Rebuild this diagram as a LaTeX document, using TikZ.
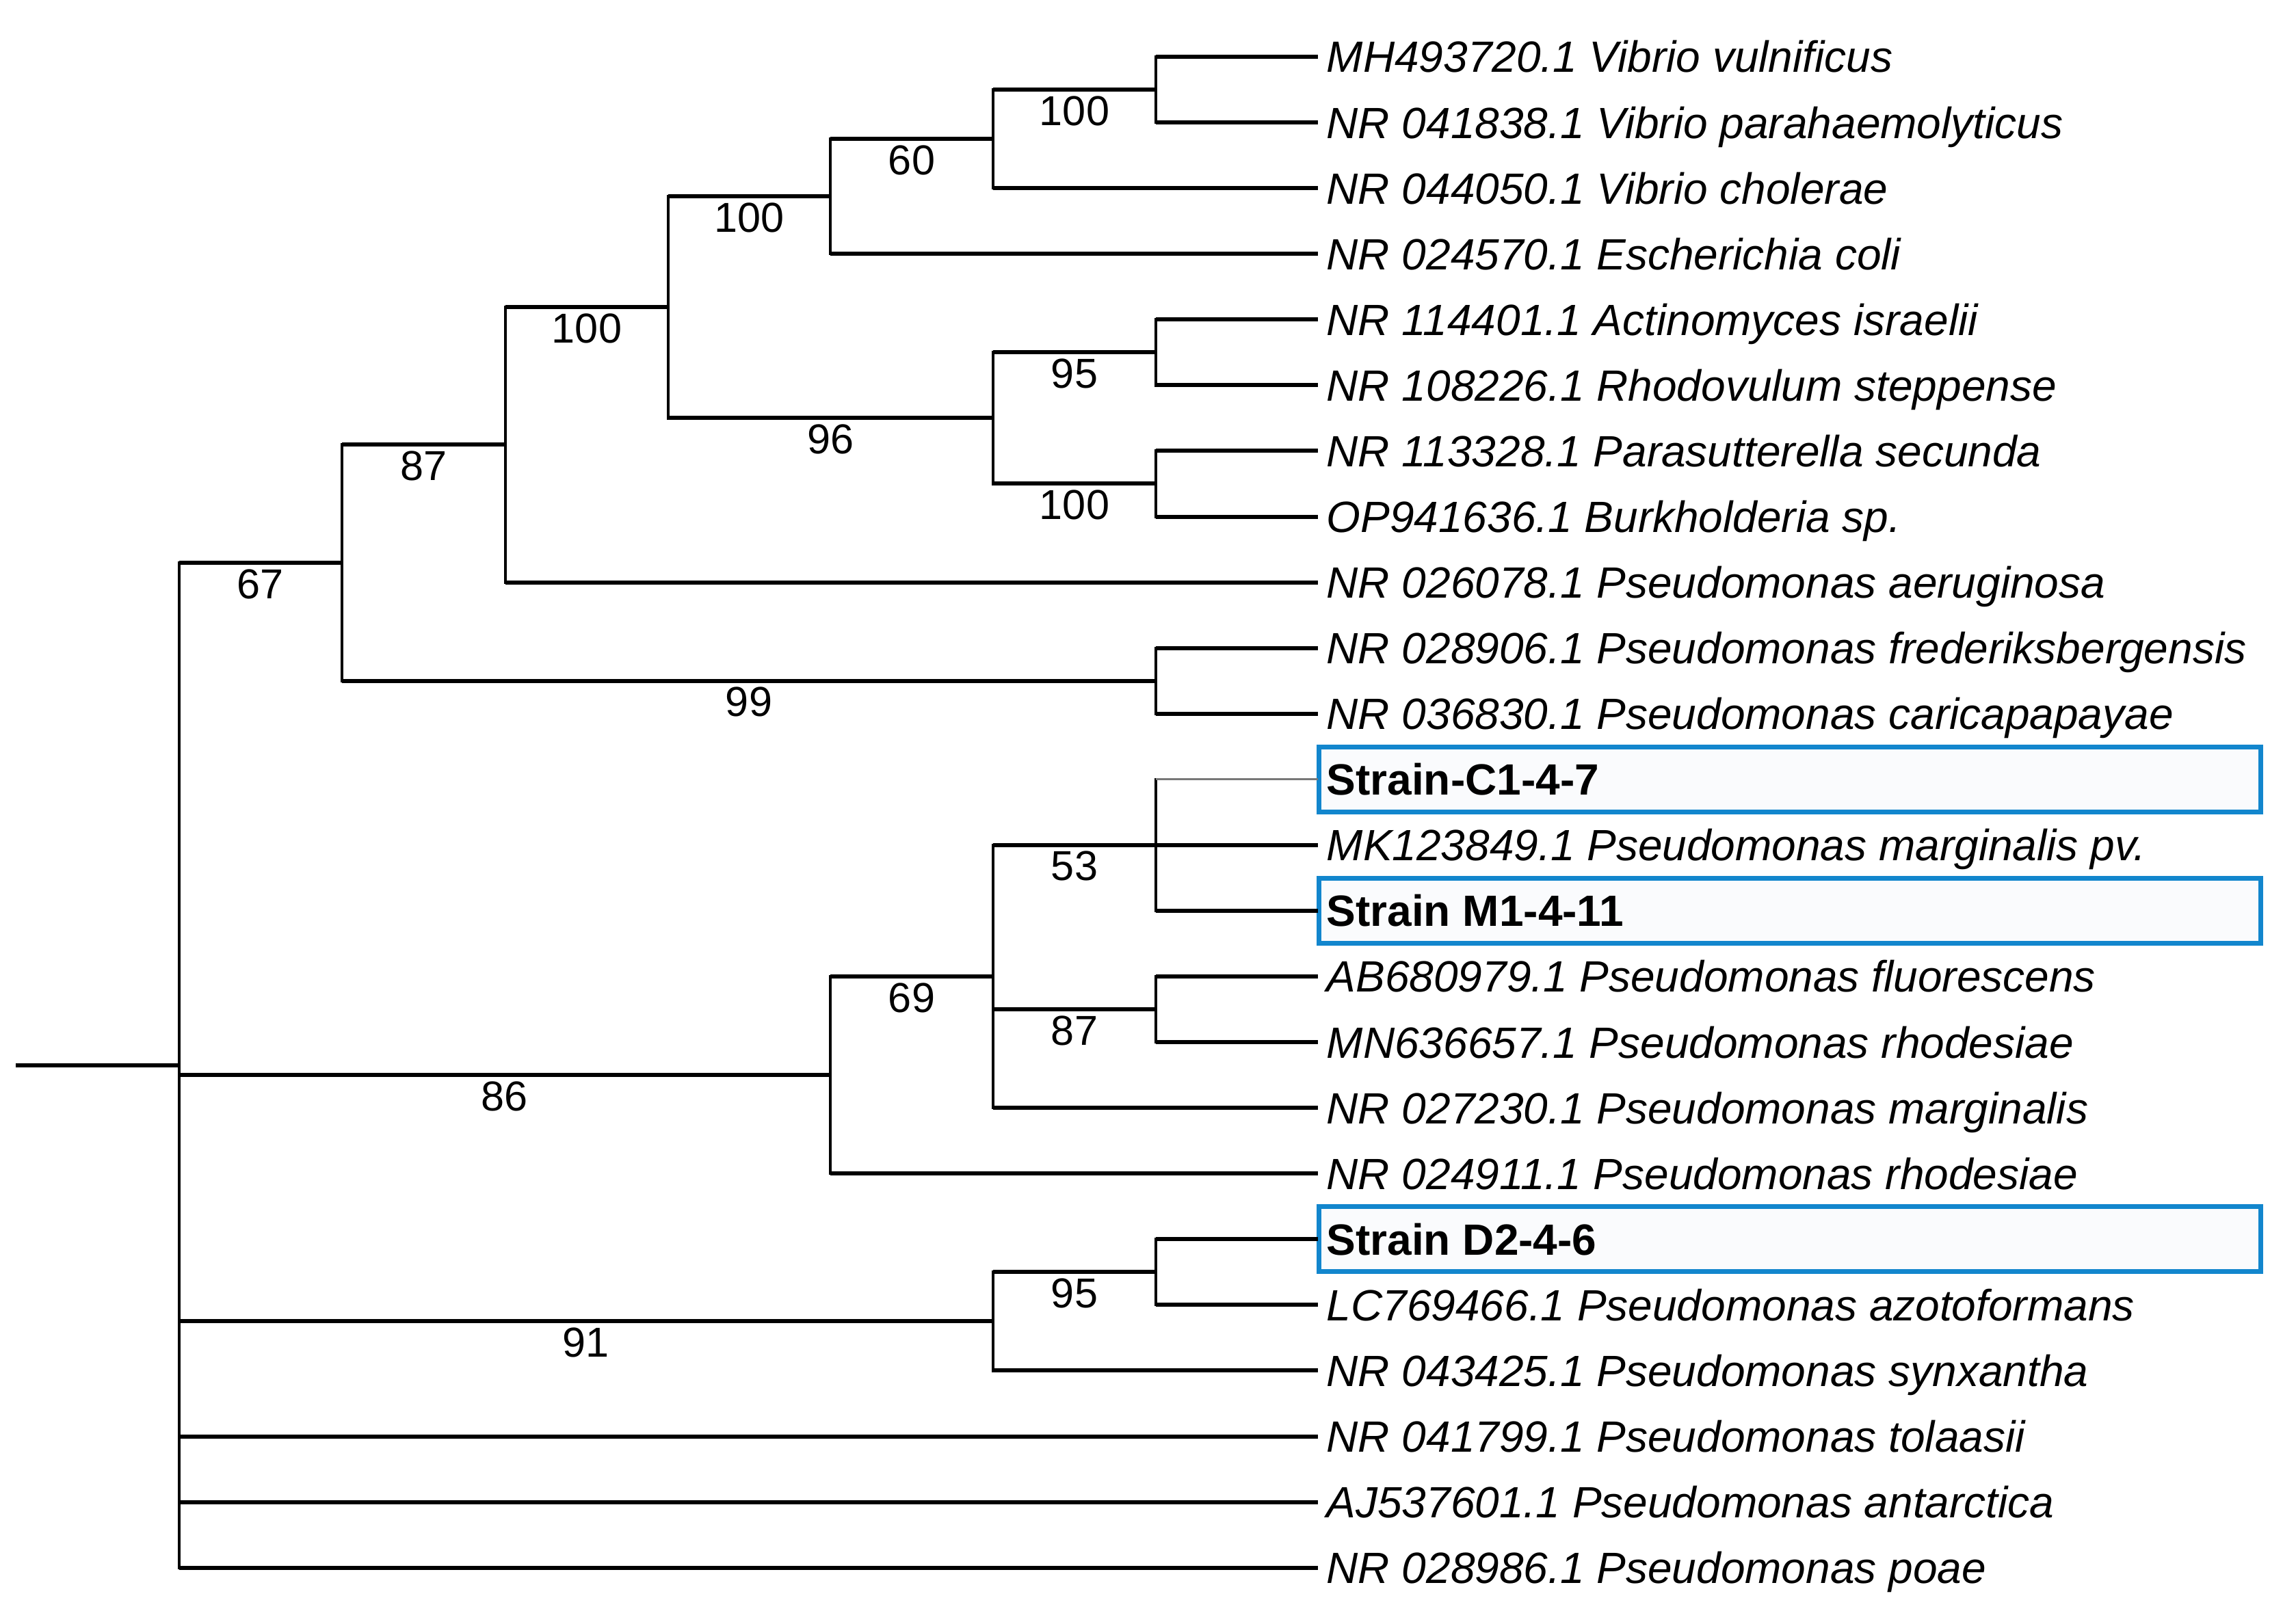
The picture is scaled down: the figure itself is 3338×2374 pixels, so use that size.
\documentclass[tikz,border=0pt]{standalone}
\usepackage{fontspec}
\setmainfont{Liberation Sans}
\definecolor{boxblue}{RGB}{18,134,205}
\definecolor{boxfill}{RGB}{250,251,253}
\definecolor{thingray}{RGB}{120,120,120}
\begin{document}
\begin{tikzpicture}[x=0.01cm,y=-0.01cm,
  hline/.style={line width=0.06cm},
  vline/.style={line width=0.042cm, line cap=rect},
  thinline/.style={line width=0.03cm, draw=thingray},
  leaf/.style={anchor=west, inner sep=0pt, text height=13.03pt, text depth=0pt,
    font=\fontsize{18.2}{20}\selectfont\itshape},
  strain/.style={anchor=west, inner sep=0pt, text height=13.03pt, text depth=0pt,
    font=\fontsize{18.2}{20}\selectfont\bfseries},
  boot/.style={inner sep=0pt, font=\fontsize{17.4}{20}\selectfont},
  hibox/.style={draw=boxblue, fill=boxfill, line width=0.07cm}]
\useasboundingbox (0,0) rectangle (3338,2374);

% highlight boxes
\path[hibox] (1928,1092.3) rectangle (3305,1187.3);
\path[hibox] (1928,1284.4) rectangle (3305,1379.4);
\path[hibox] (1928,1764.8) rectangle (3305,1859.8);

% leaf line ends
\coordinate (t0) at (1927,83.0);
\coordinate (t1) at (1927,179.1);
\coordinate (t2) at (1927,275.1);
\coordinate (t3) at (1927,371.2);
\coordinate (t4) at (1927,467.3);
\coordinate (t5) at (1927,563.4);
\coordinate (t6) at (1927,659.4);
\coordinate (t7) at (1927,755.5);
\coordinate (t8) at (1927,851.6);
\coordinate (t9) at (1927,947.6);
\coordinate (t10) at (1927,1043.7);
\coordinate (t11) at (1927,1139.8);
\coordinate (t12) at (1927,1235.8);
\coordinate (t13) at (1927,1331.9);
\coordinate (t14) at (1927,1428.0);
\coordinate (t15) at (1927,1524.1);
\coordinate (t16) at (1927,1620.1);
\coordinate (t17) at (1927,1716.2);
\coordinate (t18) at (1927,1812.3);
\coordinate (t19) at (1927,1908.3);
\coordinate (t20) at (1927,2004.4);
\coordinate (t21) at (1927,2100.5);
\coordinate (t22) at (1927,2196.5);
\coordinate (t23) at (1927,2292.6);

% internal nodes
\coordinate (stub) at (23,1557.8);
\coordinate (root) at (262,1557.8);
\coordinate (n67) at (500,823.0);
\coordinate (n87) at (739,650.4);
\coordinate (n100b) at (977,449.25);
\coordinate (n100a) at (1214,287.1);
\coordinate (n60) at (1452,203.1);
\coordinate (nA) at (1690,131.05);
\coordinate (n96) at (1452,611.4);
\coordinate (n95a) at (1690,515.35);
\coordinate (n100c) at (1690,707.45);
\coordinate (n99) at (1690,995.65);
\coordinate (n86) at (1214,1572.1);
\coordinate (n69) at (1452,1428.0);
\coordinate (n53) at (1690,1235.85);
\coordinate (n87b) at (1690,1476.05);
\coordinate (n91) at (1452,1932.35);
\coordinate (n95b) at (1690,1860.3);

% vertical lines
\draw[vline] (nA |- t0) -- (nA |- t1);
\draw[vline] (n60 |- nA) -- (n60 |- t2);
\draw[vline] (n100a |- n60) -- (n100a |- t3);
\draw[vline] (n95a |- t4) -- (n95a |- t5);
\draw[vline] (n100c |- t6) -- (n100c |- t7);
\draw[vline] (n96 |- n95a) -- (n96 |- n100c);
\draw[vline] (n100b |- n100a) -- (n100b |- n96);
\draw[vline] (n87 |- n100b) -- (n87 |- t8);
\draw[vline] (n99 |- t9) -- (n99 |- t10);
\draw[vline] (n67 |- n87) -- (n67 |- n99);
\draw[vline] (n53 |- t11) -- (n53 |- t13);
\draw[vline] (n87b |- t14) -- (n87b |- t15);
\draw[vline] (n69 |- n53) -- (n69 |- t16);
\draw[vline] (n86 |- n69) -- (n86 |- t17);
\draw[vline] (n95b |- t18) -- (n95b |- t19);
\draw[vline] (n91 |- n95b) -- (n91 |- t20);
\draw[vline] (root |- n67) -- (root |- t23);

% horizontal lines
\draw[hline] (stub) -- (root);
\draw[hline] (root |- n67) -- (n67);
\draw[hline] (root |- n86) -- (n86);
\draw[hline] (root |- n91) -- (n91);
\draw[hline] (root |- t21) -- (t21);
\draw[hline] (root |- t22) -- (t22);
\draw[hline] (root |- t23) -- (t23);
\draw[hline] (n67 |- n87) -- (n87);
\draw[hline] (n67 |- n99) -- (n99);
\draw[hline] (n87 |- n100b) -- (n100b);
\draw[hline] (n87 |- t8) -- (t8);
\draw[hline] (n100b |- n100a) -- (n100a);
\draw[hline] (n100b |- n96) -- (n96);
\draw[hline] (n100a |- n60) -- (n60);
\draw[hline] (n100a |- t3) -- (t3);
\draw[hline] (n60 |- nA) -- (nA);
\draw[hline] (n60 |- t2) -- (t2);
\draw[hline] (nA |- t0) -- (t0);
\draw[hline] (nA |- t1) -- (t1);
\draw[hline] (n96 |- n95a) -- (n95a);
\draw[hline] (n96 |- n100c) -- (n100c);
\draw[hline] (n95a |- t4) -- (t4);
\draw[hline] (n95a |- t5) -- (t5);
\draw[hline] (n100c |- t6) -- (t6);
\draw[hline] (n100c |- t7) -- (t7);
\draw[hline] (n99 |- t9) -- (t9);
\draw[hline] (n99 |- t10) -- (t10);
\draw[hline] (n86 |- n69) -- (n69);
\draw[hline] (n86 |- t17) -- (t17);
\draw[hline] (n69 |- n53) -- (n53);
\draw[hline] (n69 |- n87b) -- (n87b);
\draw[hline] (n69 |- t16) -- (t16);
\draw[thinline] (n53 |- t11) -- (t11);
\draw[hline] (n53 |- t12) -- (t12);
\draw[hline] (n53 |- t13) -- (t13);
\draw[hline] (n87b |- t14) -- (t14);
\draw[hline] (n87b |- t15) -- (t15);
\draw[hline] (n91 |- n95b) -- (n95b);
\draw[hline] (n91 |- t20) -- (t20);
\draw[hline] (n95b |- t18) -- (t18);
\draw[hline] (n95b |- t19) -- (t19);

% leaf labels
\node[leaf] (l0) at (1939,83.0) {MH493720.1 Vibrio vulnificus};
\node[leaf] (l1) at (1939,179.1) {NR 041838.1 Vibrio parahaemolyticus};
\node[leaf] (l2) at (1939,275.1) {NR 044050.1 Vibrio cholerae};
\node[leaf] (l3) at (1939,371.2) {NR 024570.1 Escherichia coli};
\node[leaf] (l4) at (1939,467.3) {NR 114401.1 Actinomyces israelii};
\node[leaf] (l5) at (1939,563.4) {NR 108226.1 Rhodovulum steppense};
\node[leaf] (l6) at (1939,659.4) {NR 113328.1 Parasutterella secunda};
\node[leaf] (l7) at (1939,755.5) {OP941636.1 Burkholderia sp.};
\node[leaf] (l8) at (1939,851.6) {NR 026078.1 Pseudomonas aeruginosa};
\node[leaf] (l9) at (1939,947.6) {NR 028906.1 Pseudomonas frederiksbergensis};
\node[leaf] (l10) at (1939,1043.7) {NR 036830.1 Pseudomonas caricapapayae};
\node[strain] (l11) at (1939,1139.8) {Strain-C1-4-7};
\node[leaf] (l12) at (1939,1235.8) {MK123849.1 Pseudomonas marginalis pv.};
\node[strain] (l13) at (1939,1331.9) {Strain M1-4-11};
\node[leaf] (l14) at (1939,1428.0) {AB680979.1 Pseudomonas fluorescens};
\node[leaf] (l15) at (1939,1524.1) {MN636657.1 Pseudomonas rhodesiae};
\node[leaf] (l16) at (1939,1620.1) {NR 027230.1 Pseudomonas marginalis};
\node[leaf] (l17) at (1939,1716.2) {NR 024911.1 Pseudomonas rhodesiae};
\node[strain] (l18) at (1939,1812.3) {Strain D2-4-6};
\node[leaf] (l19) at (1939,1908.3) {LC769466.1 Pseudomonas azotoformans};
\node[leaf] (l20) at (1939,2004.4) {NR 043425.1 Pseudomonas synxantha};
\node[leaf] (l21) at (1939,2100.5) {NR 041799.1 Pseudomonas tolaasii};
\node[leaf] (l22) at (1939,2196.5) {AJ537601.1 Pseudomonas antarctica};
\node[leaf] (l23) at (1939,2292.6) {NR 028986.1 Pseudomonas poae};

% bootstrap values
\node[boot] (b67) at (381,854.0) {67};
\node[boot] (b87) at (619.5,681.4) {87};
\node[boot] (b100b) at (858,480.3) {100};
\node[boot] (b100a) at (1095.5,318.1) {100};
\node[boot] (b60) at (1333,234.1) {60};
\node[boot] (bA) at (1571,162.1) {100};
\node[boot] (b96) at (1214.5,642.4) {96};
\node[boot] (b95a) at (1571,546.4) {95};
\node[boot] (b100c) at (1571,738.5) {100};
\node[boot] (b99) at (1095,1026.7) {99};
\node[boot] (b86) at (738,1603.1) {86};
\node[boot] (b69) at (1333,1459.0) {69};
\node[boot] (b53) at (1571,1266.9) {53};
\node[boot] (b87b) at (1571,1507.1) {87};
\node[boot] (b91) at (857,1963.4) {91};
\node[boot] (b95b) at (1571,1891.3) {95};
\end{tikzpicture}
\end{document}
